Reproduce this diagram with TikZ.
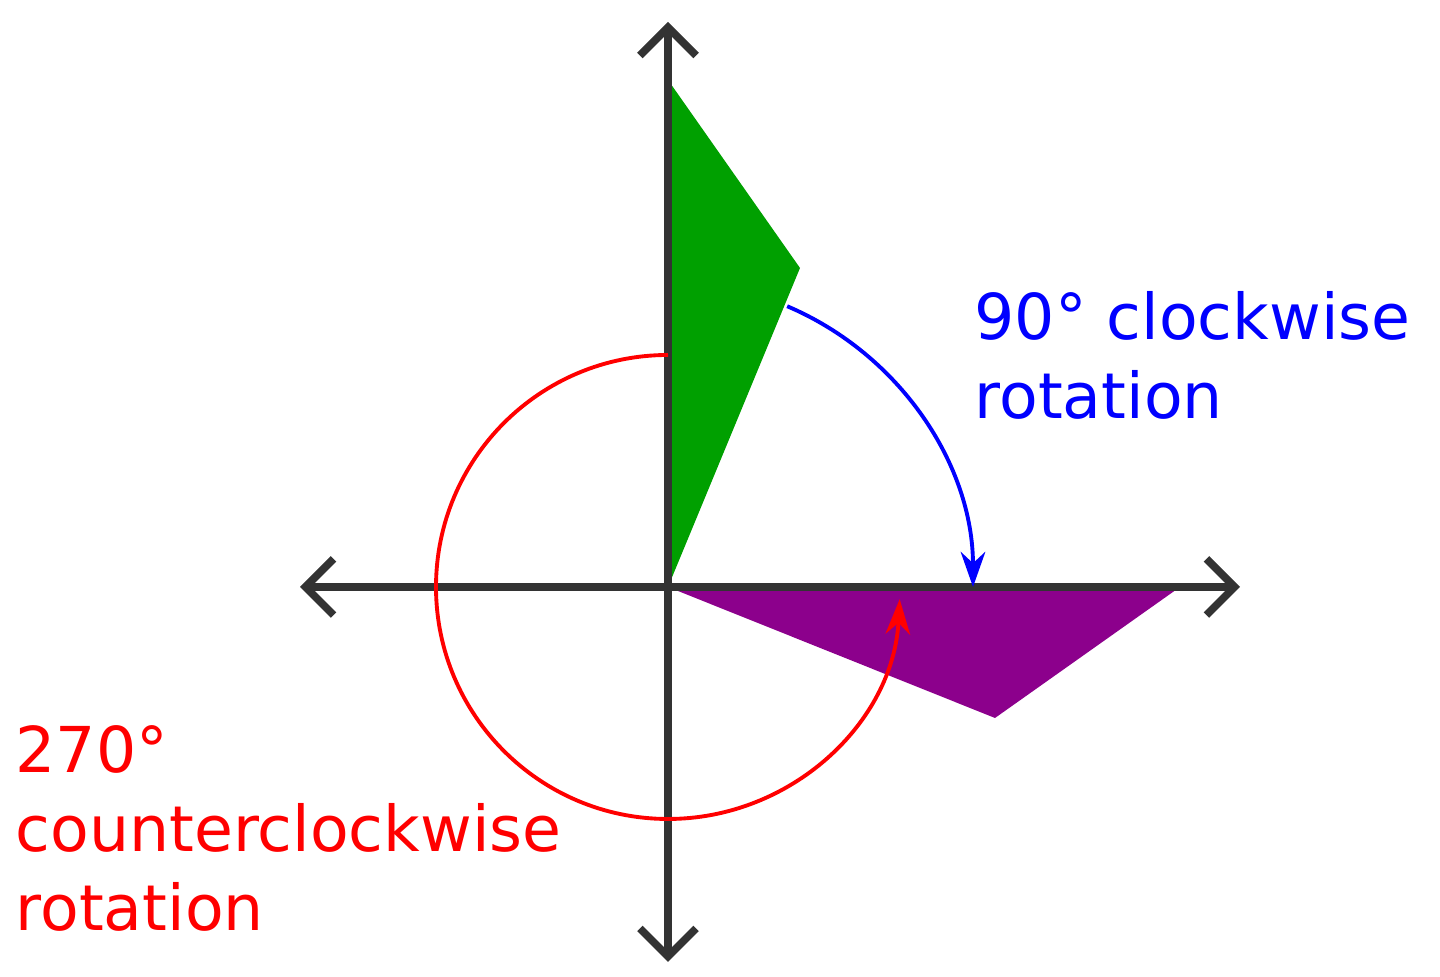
\documentclass[tikz,border=0pt]{standalone}
\usepackage{fontspec}
\setmainfont{DejaVu Sans}
\usepackage{tikz}
\usetikzlibrary{
	positioning,
	arrows.meta
}
\definecolor{shapegreen}{RGB}{0,160,0}
\definecolor{shapepurple}{RGB}{140,0,140}
\tikzset{
	axis/.style={
		draw=black!80, line width=2.2pt, {Straight Barb[length=8pt,width=16pt]}-{Straight Barb[length=8pt,width=16pt]}
	},
	turn/.style={
		line width=1.1pt, -{Stealth[length=10pt,width=7pt]}
	},
	label text/.style={
		font=\fontsize{18}{22.5}\selectfont, align=left, inner sep=0pt
	}
}

\begin{document}
\begin{tikzpicture}[x=1cm,y=1cm]
		\useasboundingbox (0,0) rectangle (14.4,9.77);
		\coordinate (O)      at (6.68,3.90);
		\coordinate (top)    at (6.68,9.55);
		\coordinate (bottom) at (6.68,0.15);
		\coordinate (left)   at (3.00,3.90);
		\coordinate (right)  at (12.40,3.90);

		% shapes
		\fill[shapegreen]  (O) -- (6.68,8.97) -- (8.00,7.09) -- cycle;
		\fill[shapepurple] (O) -- (11.80,3.90) -- (9.95,2.59) -- cycle;

		% axes
		\draw[axis] (left)   -- (right);
		\draw[axis] (bottom) -- (top);

		% rotations
		\draw[turn,blue] ([shift={(67:3.05)}]O) arc[start angle=67,end angle=0,radius=3.05];
		\draw[turn,red]  ([shift={(90:2.32)}]O) arc[start angle=90,end angle=357,radius=2.32];

		\node[label text,blue,anchor=north west] (cw)  at (9.74,6.86) {90° clockwise\\rotation};
		\node[label text,red,anchor=north west]  (ccw) at (0.15,2.52) {270°\\counterclockwise\\rotation};
	\end{tikzpicture}
\end{document}
